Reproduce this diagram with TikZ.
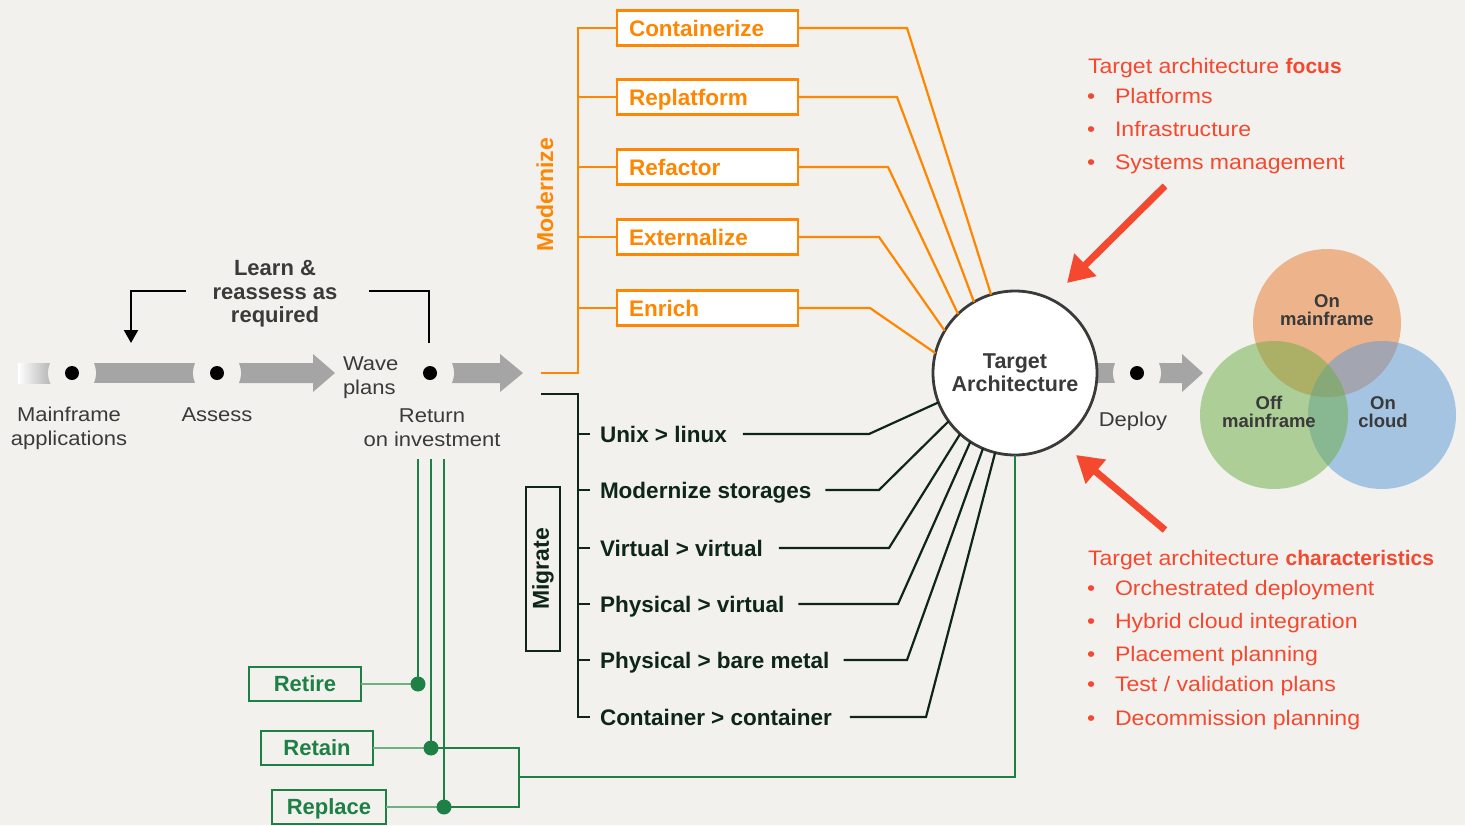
\documentclass[tikz,border=0pt]{standalone}
\usepackage{fontspec}
\setmainfont{Liberation Sans}[FakeStretch=1.1]
\newfontfamily\bsf{Liberation Sans}
\usetikzlibrary{arrows.meta}
\definecolor{bg}{HTML}{F2F1EE}
\definecolor{orng}{HTML}{FF8600}
\definecolor{dkg}{HTML}{0E2619}
\definecolor{grn}{HTML}{1E8044}
\definecolor{grnl}{HTML}{6EB07F}
\definecolor{redc}{HTML}{F4482F}
\definecolor{txtg}{HTML}{3A3A3A}
\definecolor{barg}{HTML}{A5A5A5}
\definecolor{vorg}{RGB}{234,121,42}
\definecolor{vgrn}{RGB}{108,173,66}
\definecolor{vblu}{RGB}{90,153,214}
\begin{document}
\begin{tikzpicture}[x=1pt,y=-1pt,
  every node/.style={inner sep=0pt, outer sep=0pt},
  reg/.style={font=\fontsize{20}{24}\selectfont, text=txtg},
  redt/.style={font=\fontsize{21}{25}\selectfont, text=redc, anchor=west, text height=15pt, text depth=0pt},
  obox/.style={draw=orng, line width=2.5pt, fill=white, anchor=west, minimum height=35pt,
    text width=157pt, inner xsep=12pt, align=left, text=orng, text height=16pt, text depth=0pt,
    font=\bsf\bfseries\fontsize{22.5}{26}\selectfont},
  mlbl/.style={anchor=west, text=dkg, text height=16pt, text depth=0pt,
    font=\bsf\bfseries\fontsize{22.5}{26}\selectfont},
  gbox/.style={draw=grn, line width=2.5pt, minimum height=34pt, text=grn, text height=15pt, text depth=0pt,
    font=\bsf\bfseries\fontsize{22}{26}\selectfont},
  oline/.style={draw=orng, line width=2.2pt},
  dline/.style={draw=dkg, line width=2.2pt},
  gline/.style={draw=grn, line width=2.4pt},
  dot/.style={circle, fill=black, minimum size=14pt},
  gdot/.style={circle, fill=grn, minimum size=15pt},
  clear/.style={fill=bg},
  vtext/.style={align=center, text=txtg, font=\bsf\bfseries\fontsize{18.5}{18.5}\selectfont},
  redarrow/.style={draw=redc, line width=7pt, -{Triangle[length=26pt,width=30pt]}}
]
% background
\fill[bg] (0,0) rectangle (1465,825);
\useasboundingbox (0,0) rectangle (1465,825);

% ---- pipeline bars ----
\coordinate (d1) at (72,373);
\coordinate (d2) at (217,373);
\coordinate (d3) at (430,373);
\coordinate (d4) at (1137,373);
\shade[left color=white, right color=barg] (18,363) rectangle (58,383);
\fill[barg] (80,363) rectangle (205,383);
\fill[barg] (230,363) -- (313,363) -- (313,354) -- (335,373) -- (313,392) -- (313,383) -- (230,383) -- cycle;
\fill[barg] (440,363) -- (500,363) -- (500,354) -- (523,373) -- (500,392) -- (500,383) -- (440,383) -- cycle;
\fill[barg] (1080,363) rectangle (1125,383);
\fill[barg] (1150,363) -- (1182,363) -- (1182,354) -- (1203,373) -- (1182,392) -- (1182,383) -- (1150,383) -- cycle;
\foreach \d in {d1,d2,d3,d4} {\fill[clear] (\d) circle[radius=24pt];}
\foreach \d in {d1,d2,d3,d4} {\node[dot] at (\d) {};}

% ---- pipeline labels ----
\node[reg, align=center] (mfa) at (69,428) {Mainframe\\applications};
\node[reg] (ass) at (217,415) {Assess};
\node[reg, align=left, anchor=west] (wave) at (343,378) {Wave\\plans};
\node[reg, align=center] (roi) at (432,428) {Return\\on investment};
\node[align=center, text=txtg, font=\bsf\bfseries\fontsize{22}{23.5}\selectfont] (learn) at (275,294) {Learn \&\\reassess as\\required};

% feedback loop
\coordinate (fbL) at (186,291);
\coordinate (fbR) at (369,291);
\coordinate (fbLt) at (131,343);
\coordinate (fbRt) at (429,343);
\draw[line width=2.2pt, -{Triangle[length=13pt,width=14pt]}] (fbL) -| (fbLt);
\draw[line width=2.2pt] (fbR) -| (fbRt);

% ---- target circle ----
\node[circle, draw=txtg, line width=2.8pt, fill=white, minimum size=164pt, align=center, text=txtg,
  font=\bsf\bfseries\fontsize{21.5}{23}\selectfont] (C) at (1015,373) {Target\\Architecture};

% ---- modernize ----
\coordinate (mstart) at (541,373);
\node[obox] (b1) at (617,28) {Containerize};
\node[obox] (b2) at (617,97) {Replatform};
\node[obox] (b3) at (617,167) {Refactor};
\node[obox] (b4) at (617,237) {Externalize};
\node[obox] (b5) at (617,308) {Enrich};
\node[rotate=90, text=orng, font=\bsf\bfseries\fontsize{23}{24}\selectfont] (modl) at (545,195) {Modernize};
\draw[oline] (mstart) -- (578,373) |- (b1.west);
\foreach \b in {b2,b3,b4,b5} {\draw[oline] (578,373) |- (\b.west);}
\draw[oline] (b1.east) -- (907,28) -- (C.107);
\draw[oline] (b2.east) -- (897,97) -- (C.120);
\draw[oline] (b3.east) -- (888,167) -- (C.134);
\draw[oline] (b4.east) -- (879,237) -- (C.149);
\draw[oline] (b5.east) -- (870,308) -- (C.166);

% ---- migrate ----
\coordinate (gstart) at (541,394);
\node[draw=dkg, line width=2.5pt, rotate=90, minimum width=164pt, minimum height=34pt, text=dkg,
  font=\bsf\bfseries\fontsize{23}{24}\selectfont] (migl) at (543,569) {Migrate};
\node[mlbl] (m1) at (600,434) {Unix > linux};
\node[mlbl] (m2) at (600,490) {Modernize storages};
\node[mlbl] (m3) at (600,548) {Virtual > virtual};
\node[mlbl] (m4) at (600,604) {Physical > virtual};
\node[mlbl] (m5) at (600,660) {Physical > bare metal};
\node[mlbl] (m6) at (600,717) {Container > container};
\draw[dline] (gstart) -- (578,394) -- (578,717) -- (590,717);
\foreach \y in {434,490,548,604,660} {\draw[dline] (578,\y) -- (590,\y);}
\draw[dline] ([xshift=16pt]m1.east) -- (869,434) -- (C.201);
\draw[dline] ([xshift=14pt]m2.east) -- (879,490) -- (C.216);
\draw[dline] ([xshift=16pt]m3.east) -- (889,548) -- (C.228);
\draw[dline] ([xshift=14pt]m4.east) -- (898,604) -- (C.237);
\draw[dline] ([xshift=14pt]m5.east) -- (907,660) -- (C.247);
\draw[dline] ([xshift=18pt]m6.east) -- (926,717) -- (C.256);

% ---- retire / retain / replace ----
\coordinate (v1) at (418,459);
\coordinate (v2) at (431,459);
\coordinate (v3) at (444,459);
\coordinate (gd1) at (418,684);
\coordinate (gd2) at (431,748);
\coordinate (gd3) at (444,807);
\node[gbox, minimum width=112pt] (ret) at (305,684) {Retire};
\node[gbox, minimum width=112pt] (rtn) at (317,748) {Retain};
\node[gbox, minimum width=114pt] (rpl) at (329,807) {Replace};
\draw[gline] (v1) -- (gd1);
\draw[gline] (v2) -- (gd2);
\draw[gline] (v3) -- (gd3);
\draw[draw=grnl, line width=1.5pt] (ret.east) -- (gd1);
\draw[draw=grnl, line width=1.5pt] (rtn.east) -- (gd2);
\draw[draw=grnl, line width=1.5pt] (rpl.east) -- (gd3);
\draw[gline] (gd2) -- (519,748) -- (519,807) -- (gd3);
\draw[gline] (519,777) -| (C.south);
\node[gdot] at (gd1) {};
\node[gdot] at (gd2) {};
\node[gdot] at (gd3) {};

% ---- deploy ----
\node[reg] (dep) at (1133,421) {Deploy};

% ---- venn ----
\fill[vorg, fill opacity=0.5] (1327,323) circle[radius=74pt];
\fill[vblu, fill opacity=0.5] (1382,415) circle[radius=74pt];
\fill[vgrn, fill opacity=0.5] (1274,415) circle[radius=74pt];
\node[vtext] (von) at (1327,310) {On\\mainframe};
\node[vtext] (voff) at (1269,412) {Off\\mainframe};
\node[vtext] (vcl) at (1383,412) {On\\cloud};

% ---- red annotations ----
\node[redt] (f0) at (1088,66) {Target architecture \bsf\bfseries focus};
\foreach \y/\t [count=\i] in {96/{Platforms},129/{Infrastructure},162/{Systems management}} {
  \node[redt] (fb\i) at (1087,\y) {•};
  \node[redt] (ft\i) at (1115,\y) {\t};
}
\node[redt] (c0) at (1088,558) {Target architecture \bsf\bfseries characteristics};
\foreach \y/\t [count=\i] in {588/{Orchestrated deployment},621/{Hybrid cloud integration},654/{Placement planning},684/{Test / validation plans},718/{Decommission planning}} {
  \node[redt] (cb\i) at (1087,\y) {•};
  \node[redt] (ct\i) at (1115,\y) {\t};
}
\coordinate (ra1) at (1165,186);
\coordinate (ra1t) at (1067,283);
\coordinate (ra2) at (1165,530);
\coordinate (ra2t) at (1076,455);
\draw[redarrow] (ra1) -- (ra1t);
\draw[redarrow] (ra2) -- (ra2t);
\end{tikzpicture}
\end{document}
